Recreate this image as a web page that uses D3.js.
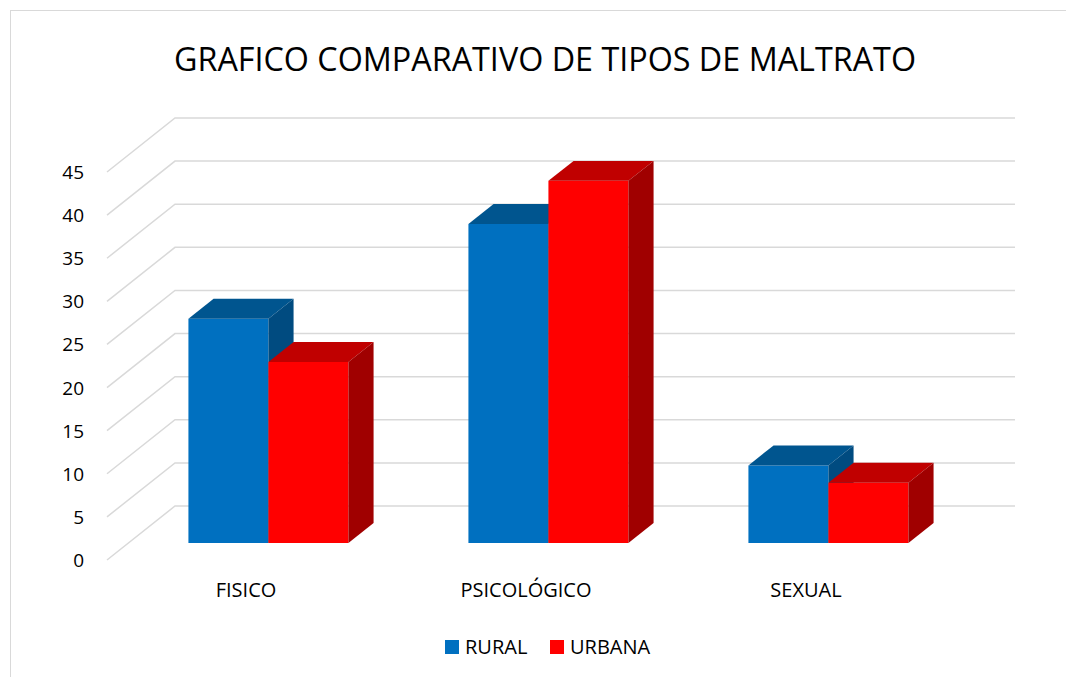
<!DOCTYPE html>
<html>
<head>
<meta charset="utf-8">
<script src="https://cdn.jsdelivr.net/npm/d3@7"></script>
<style>
  body { margin: 0; background: #fff; }
  svg { display: block; font-family: "Open Sans", sans-serif; }
</style>
</head>
<body>
<div id="chart"></div>
<script>
// data
const categories = ["FISICO", "PSICOLÓGICO", "SEXUAL"];
const seriesNames = ["RURAL", "URBANA"];
const rural = [26, 37, 9];
const urbana = [21, 42, 7];
const yTicks = [0, 5, 10, 15, 20, 25, 30, 35, 40, 45];

const width = 1066, height = 677;

// front plane of the 3D box and the depth shift to the back wall
const front = { left: 107, right: 947, bottom: 560, top: 172 };
const depth = { dx: 68, dy: -54 };
const barDepth = 0.37; // share of the floor depth taken by a bar

const colors = {
  RURAL: { front: "#0070C0", top: "#00558F", side: "#004B80" },
  URBANA: { front: "#FF0000", top: "#C00000", side: "#A00000" }
};

const svg = d3.select("#chart").append("svg")
  .attr("width", width)
  .attr("height", height);

// outer chart border
svg.append("rect")
  .attr("x", 10.5).attr("y", 10.5)
  .attr("width", width).attr("height", height)
  .attr("fill", "none")
  .attr("stroke", "#d9d9d9")
  .attr("stroke-width", 1);

// title
svg.append("text")
  .attr("x", 545).attr("y", 71)
  .attr("text-anchor", "middle")
  .attr("font-size", 32.3)
  .attr("fill", "#000")
  .text("GRAFICO COMPARATIVO DE TIPOS DE MALTRATO");

const y = d3.scaleLinear().domain([0, 45]).range([front.bottom, front.top]);
const x0 = d3.scaleBand().domain(categories).range([front.left, front.right]);
const x1 = d3.scaleBand().domain(seriesNames).range([0, 160]);

// gridlines: floor-side oblique + back wall horizontal
const grid = svg.append("g").attr("class", "grid");
grid.selectAll("path")
  .data(yTicks)
  .enter().append("path")
  .attr("d", d => {
    const yy = y(d);
    return "M" + front.left + "," + yy +
      "L" + (front.left + depth.dx) + "," + (yy + depth.dy) +
      "L" + (front.right + depth.dx) + "," + (yy + depth.dy);
  })
  .attr("fill", "none")
  .attr("stroke", "#d9d9d9")
  .attr("stroke-width", 1.5);

// y axis labels
svg.append("g")
  .selectAll("text")
  .data(yTicks)
  .enter().append("text")
  .attr("x", 84)
  .attr("y", d => y(d) + 7)
  .attr("text-anchor", "end")
  .attr("font-size", 19)
  .attr("fill", "#000")
  .text(d => d);

// bars as 3D boxes
const off0 = (1 - barDepth) / 2;
const fdx = depth.dx * off0, fdy = depth.dy * off0;       // bar front face shift
const bdx = depth.dx * barDepth, bdy = depth.dy * barDepth; // bar own depth

const bars = [];
categories.forEach((c, i) => {
  bars.push({ cat: c, s: "RURAL", v: rural[i] });
  bars.push({ cat: c, s: "URBANA", v: urbana[i] });
});

const barG = svg.append("g").attr("class", "bars");
bars.forEach(b => {
  const gx = x0(b.cat) + (x0.bandwidth() - 160) / 2;
  const xl = gx + x1(b.s) + fdx;
  const xr = xl + x1.bandwidth();
  const yb = y(0) + fdy;
  const yt = y(b.v) + fdy;
  const col = colors[b.s];
  const g = barG.append("g");
  // front face
  g.append("path")
    .attr("d", `M${xl},${yb}L${xr},${yb}L${xr},${yt}L${xl},${yt}Z`)
    .attr("fill", col.front);
  // top face
  g.append("path")
    .attr("d", `M${xl},${yt}L${xr},${yt}L${xr + bdx},${yt + bdy}L${xl + bdx},${yt + bdy}Z`)
    .attr("fill", col.top);
  // side face
  g.append("path")
    .attr("d", `M${xr},${yb}L${xr + bdx},${yb + bdy}L${xr + bdx},${yt + bdy}L${xr},${yt}Z`)
    .attr("fill", col.side);
});

// category labels
svg.append("g")
  .selectAll("text")
  .data(categories)
  .enter().append("text")
  .attr("x", d => x0(d) + x0.bandwidth() / 2 - 1)
  .attr("y", 597)
  .attr("text-anchor", "middle")
  .attr("font-size", 20)
  .attr("fill", "#000")
  .text(d => d);

// legend
const legend = svg.append("g").attr("class", "legend");
const legendX = [445, 550];
seriesNames.forEach((s, i) => {
  legend.append("rect")
    .attr("x", legendX[i]).attr("y", 640)
    .attr("width", 14).attr("height", 14)
    .attr("fill", colors[s].front);
  legend.append("text")
    .attr("x", legendX[i] + 20).attr("y", 654)
    .attr("font-size", 20)
    .attr("fill", "#000")
    .text(s);
});
</script>
</body>
</html>
